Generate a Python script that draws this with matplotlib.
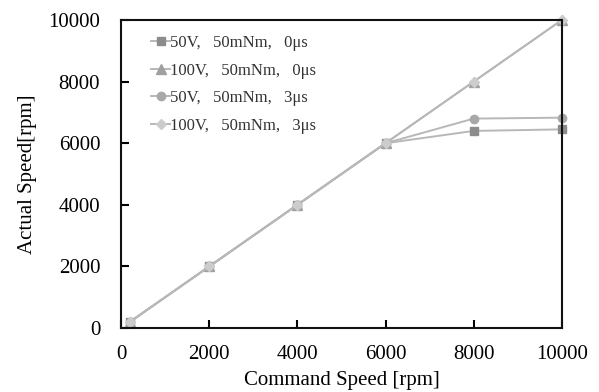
import matplotlib.pyplot as plt

plt.rcParams['font.family'] = ['Liberation Serif', 'DejaVu Serif']

# Command speed (rpm)
command = [200, 2000, 4000, 6000, 8000, 10000]

# Actual speed (rpm) per condition
v50_0us = [200, 2000, 4000, 6000, 6400, 6450]
v100_0us = [200, 2000, 4000, 6000, 8000, 10000]
v50_3us = [200, 2000, 4000, 6000, 6800, 6830]
v100_3us = [200, 2000, 4000, 6000, 8000, 10000]

labels = ["50V,   50mNm,   0\u03bcs",
          "100V,   50mNm,   0\u03bcs",
          "50V,   50mNm,   3\u03bcs",
          "100V,   50mNm,   3\u03bcs"]

fig = plt.figure(figsize=(5.99, 3.92), dpi=100)
ax = fig.add_axes([0.202, 0.163, 0.736, 0.786])

line_col = "#b8b8b8"
ax.plot(command, v50_0us, color=line_col, lw=1.4, marker="s", ms=6,
        mfc="#8c8c8c", mec="#8c8c8c", label=labels[0], clip_on=False)
ax.plot(command, v100_0us, color=line_col, lw=1.4, marker="^", ms=7,
        mfc="#a0a0a0", mec="#a0a0a0", label=labels[1], clip_on=False)
ax.plot(command, v50_3us, color=line_col, lw=1.4, marker="o", ms=6,
        mfc="#a8a8a8", mec="#a8a8a8", label=labels[2], clip_on=False)
ax.plot(command, v100_3us, color=line_col, lw=1.4, marker="D", ms=5,
        mfc="#cccccc", mec="#cccccc", label=labels[3], clip_on=False)

ax.set_xlim(0, 10000)
ax.set_ylim(0, 10000)
ax.set_xticks(range(0, 10001, 2000))
ax.set_yticks(range(0, 10001, 2000))
ax.tick_params(direction="in", length=6, width=1.5, labelsize=15)
ax.tick_params(axis="x", pad=12)
ax.tick_params(axis="y", pad=15)
for s in ax.spines.values():
    s.set_linewidth(1.5)
    s.set_color("#111111")

ax.set_xlabel("Command Speed [rpm]", fontsize=15, labelpad=5)
ax.set_ylabel("Actual Speed[rpm]", fontsize=15, labelpad=8)

ax.legend(loc="upper left", frameon=False, fontsize=12, handlelength=1.1,
          handletextpad=0.0, labelspacing=0.7, bbox_to_anchor=(0.035, 1.0),
          labelcolor="#333333")

fig.savefig("out.png", dpi=100)
